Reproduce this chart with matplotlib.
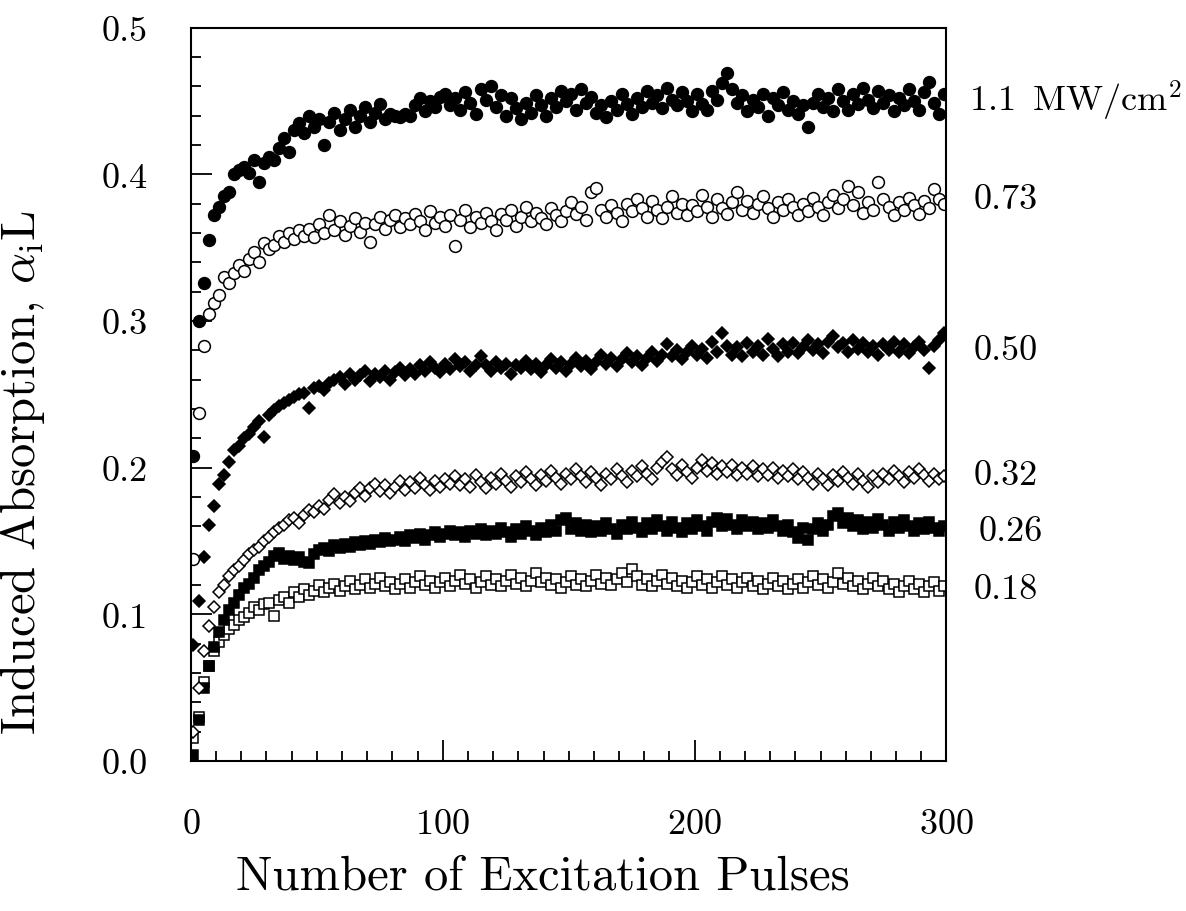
import numpy as np
import matplotlib
matplotlib.use("Agg")
import matplotlib.pyplot as plt
from matplotlib.ticker import MultipleLocator, FormatStrFormatter
import matplotlib.transforms as mtransforms

plt.rcParams['font.family'] = ['cmr10', 'DejaVu Serif']
plt.rcParams['mathtext.fontset'] = 'cm'
plt.rcParams['axes.unicode_minus'] = False
plt.rcParams['axes.formatter.use_mathtext'] = True

# induced absorption, one value every 2nd pulse (1, 3, 5, ... 299)
s110 = [0.208, 0.300, 0.326, 0.355, 0.372, 0.378, 0.385, 0.388, 0.400, 0.403,
        0.405, 0.401, 0.410, 0.395, 0.408, 0.412, 0.410, 0.418, 0.425, 0.415,
        0.430, 0.435, 0.428, 0.440, 0.432, 0.438, 0.420, 0.436, 0.442, 0.430,
        0.438, 0.444, 0.432, 0.440, 0.446, 0.436, 0.442, 0.448, 0.438, 0.441,
        0.440, 0.439, 0.441, 0.440, 0.447, 0.452, 0.443, 0.450, 0.446, 0.453,
        0.455, 0.447, 0.452, 0.444, 0.456, 0.449, 0.441, 0.458, 0.451, 0.460,
        0.446, 0.454, 0.440, 0.452, 0.445, 0.438, 0.449, 0.442, 0.454, 0.447,
        0.440, 0.452, 0.446, 0.457, 0.450, 0.455, 0.444, 0.458, 0.449, 0.453,
        0.442, 0.447, 0.439, 0.450, 0.444, 0.455, 0.448, 0.441, 0.452, 0.446,
        0.457, 0.449, 0.454, 0.445, 0.459, 0.451, 0.447, 0.456, 0.450, 0.443,
        0.455, 0.448, 0.444, 0.457, 0.451, 0.462, 0.469, 0.458, 0.449, 0.454,
        0.443, 0.451, 0.446, 0.455, 0.440, 0.452, 0.447, 0.456, 0.444, 0.450,
        0.441, 0.447, 0.432, 0.449, 0.455, 0.446, 0.452, 0.443, 0.458, 0.450,
        0.444, 0.455, 0.448, 0.459, 0.451, 0.445, 0.457, 0.449, 0.454, 0.443,
        0.452, 0.447, 0.458, 0.450, 0.444, 0.456, 0.463, 0.449, 0.441, 0.455]

s073 = [0.138, 0.237, 0.283, 0.305, 0.312, 0.318, 0.330, 0.326, 0.333, 0.338,
        0.334, 0.342, 0.347, 0.340, 0.353, 0.349, 0.352, 0.358, 0.354, 0.360,
        0.356, 0.362, 0.358, 0.363, 0.357, 0.366, 0.360, 0.372, 0.362, 0.368,
        0.359, 0.365, 0.370, 0.361, 0.367, 0.354, 0.366, 0.371, 0.363, 0.369,
        0.372, 0.364, 0.370, 0.366, 0.373, 0.368, 0.362, 0.375, 0.367, 0.371,
        0.365, 0.372, 0.351, 0.369, 0.376, 0.364, 0.371, 0.367, 0.374, 0.368,
        0.362, 0.373, 0.369, 0.376, 0.365, 0.371, 0.378, 0.368, 0.374, 0.370,
        0.366, 0.377, 0.372, 0.368, 0.375, 0.381, 0.373, 0.378, 0.369, 0.388,
        0.391, 0.376, 0.371, 0.379, 0.374, 0.368, 0.380, 0.375, 0.383, 0.377,
        0.371, 0.382, 0.376, 0.370, 0.378, 0.385, 0.374, 0.380, 0.372, 0.379,
        0.375, 0.386, 0.378, 0.371, 0.383, 0.377, 0.373, 0.381, 0.388, 0.376,
        0.382, 0.374, 0.380, 0.385, 0.377, 0.371, 0.381, 0.376, 0.383, 0.378,
        0.372, 0.380, 0.375, 0.384, 0.378, 0.372, 0.381, 0.386, 0.377, 0.383,
        0.392, 0.379, 0.388, 0.374, 0.381, 0.376, 0.395, 0.383, 0.378, 0.372,
        0.381, 0.376, 0.384, 0.379, 0.373, 0.382, 0.377, 0.390, 0.383, 0.380]

s050 = [0.079, 0.109, 0.139, 0.161, 0.174, 0.189, 0.195, 0.204, 0.212, 0.215,
        0.220, 0.223, 0.228, 0.232, 0.221, 0.236, 0.239, 0.242, 0.244, 0.246,
        0.248, 0.250, 0.251, 0.241, 0.254, 0.256, 0.253, 0.258, 0.260, 0.262,
        0.257, 0.264, 0.260, 0.263, 0.266, 0.259, 0.264, 0.262, 0.266, 0.260,
        0.265, 0.268, 0.263, 0.267, 0.264, 0.270, 0.266, 0.272, 0.268, 0.265,
        0.271, 0.267, 0.274, 0.269, 0.272, 0.266, 0.270, 0.276, 0.270, 0.266,
        0.272, 0.268, 0.271, 0.264, 0.270, 0.268, 0.273, 0.267, 0.271, 0.265,
        0.270, 0.274, 0.268, 0.272, 0.266, 0.271, 0.275, 0.269, 0.273, 0.267,
        0.272, 0.277, 0.271, 0.275, 0.269, 0.274, 0.278, 0.272, 0.276, 0.270,
        0.275, 0.279, 0.273, 0.277, 0.284, 0.276, 0.280, 0.274, 0.279, 0.283,
        0.277, 0.281, 0.275, 0.286, 0.279, 0.292, 0.283, 0.277, 0.282, 0.276,
        0.285, 0.279, 0.283, 0.277, 0.288, 0.281, 0.276, 0.284, 0.279, 0.285,
        0.278, 0.282, 0.287, 0.280, 0.284, 0.278, 0.286, 0.290, 0.282, 0.285,
        0.279, 0.287, 0.281, 0.285, 0.279, 0.283, 0.277, 0.284, 0.280, 0.286,
        0.279, 0.284, 0.278, 0.282, 0.286, 0.280, 0.268, 0.283, 0.287, 0.292]

s032 = [0.020, 0.050, 0.075, 0.092, 0.105, 0.115, 0.120, 0.126, 0.130, 0.133,
        0.137, 0.141, 0.144, 0.146, 0.150, 0.153, 0.156, 0.159, 0.161, 0.164,
        0.166, 0.162, 0.168, 0.171, 0.170, 0.174, 0.172, 0.178, 0.182, 0.176,
        0.180, 0.177, 0.183, 0.186, 0.181, 0.186, 0.189, 0.184, 0.188, 0.183,
        0.187, 0.191, 0.185, 0.190, 0.186, 0.193, 0.188, 0.185, 0.191, 0.187,
        0.192, 0.189, 0.194, 0.188, 0.192, 0.187, 0.195, 0.190, 0.186, 0.193,
        0.189, 0.196, 0.191, 0.187, 0.194, 0.190, 0.197, 0.192, 0.188, 0.195,
        0.191, 0.198, 0.193, 0.189, 0.196, 0.192, 0.199, 0.194, 0.190, 0.197,
        0.193, 0.188, 0.196, 0.192, 0.199, 0.194, 0.190, 0.198, 0.194, 0.201,
        0.196, 0.192, 0.200, 0.204, 0.207, 0.199, 0.195, 0.202, 0.197, 0.193,
        0.200, 0.205, 0.198, 0.203, 0.196, 0.201, 0.197, 0.202, 0.195, 0.200,
        0.196, 0.201, 0.194, 0.199, 0.195, 0.200, 0.193, 0.198, 0.194, 0.199,
        0.192, 0.197, 0.193, 0.189, 0.196, 0.192, 0.188, 0.195, 0.191, 0.197,
        0.193, 0.189, 0.196, 0.191, 0.187, 0.194, 0.190, 0.196, 0.192, 0.198,
        0.194, 0.190, 0.197, 0.193, 0.199, 0.195, 0.191, 0.196, 0.192, 0.194]

s026 = [0.004, 0.028, 0.050, 0.065, 0.078, 0.088, 0.096, 0.103, 0.108, 0.113,
        0.118, 0.121, 0.125, 0.130, 0.133, 0.136, 0.140, 0.142, 0.138, 0.140,
        0.137, 0.139, 0.136, 0.135, 0.141, 0.144, 0.145, 0.143, 0.147, 0.145,
        0.148, 0.146, 0.149, 0.147, 0.150, 0.148, 0.151, 0.149, 0.152, 0.150,
        0.151, 0.153, 0.150, 0.154, 0.152, 0.155, 0.151, 0.154, 0.156, 0.153,
        0.155, 0.157, 0.154, 0.156, 0.153, 0.157, 0.155, 0.158, 0.154, 0.157,
        0.155, 0.159, 0.156, 0.153, 0.158, 0.155, 0.160, 0.157, 0.154, 0.159,
        0.156, 0.161, 0.157, 0.164, 0.166, 0.158, 0.162, 0.157, 0.161, 0.156,
        0.160, 0.157, 0.162, 0.158, 0.155, 0.161, 0.158, 0.163, 0.159, 0.156,
        0.162, 0.158, 0.164, 0.160, 0.157, 0.163, 0.159, 0.156, 0.162, 0.158,
        0.164, 0.160, 0.157, 0.163, 0.166, 0.160, 0.165, 0.161, 0.158, 0.164,
        0.160, 0.163, 0.158, 0.162, 0.159, 0.164, 0.160, 0.157, 0.161, 0.156,
        0.152, 0.159, 0.151, 0.158, 0.162, 0.157, 0.161, 0.167, 0.169, 0.162,
        0.166, 0.160, 0.164, 0.158, 0.163, 0.159, 0.165, 0.161, 0.157, 0.163,
        0.159, 0.164, 0.160, 0.157, 0.162, 0.158, 0.163, 0.159, 0.157, 0.160]

s018 = [0.016, 0.030, 0.054, 0.065, 0.075, 0.081, 0.086, 0.090, 0.093, 0.096,
        0.098, 0.101, 0.105, 0.103, 0.107, 0.108, 0.099, 0.110, 0.112, 0.108,
        0.115, 0.112, 0.117, 0.113, 0.116, 0.120, 0.115, 0.118, 0.121, 0.116,
        0.119, 0.123, 0.117, 0.120, 0.124, 0.118, 0.121, 0.125, 0.119, 0.122,
        0.117, 0.121, 0.124, 0.118, 0.122, 0.126, 0.120, 0.123, 0.118, 0.122,
        0.125, 0.119, 0.123, 0.127, 0.121, 0.124, 0.118, 0.122, 0.126, 0.120,
        0.124, 0.119, 0.123, 0.127, 0.121, 0.125, 0.119, 0.123, 0.128, 0.122,
        0.125, 0.120, 0.124, 0.118, 0.122, 0.126, 0.120, 0.124, 0.119, 0.123,
        0.127, 0.121, 0.125, 0.120, 0.124, 0.128, 0.122, 0.131, 0.126, 0.120,
        0.124, 0.119, 0.123, 0.127, 0.121, 0.125, 0.119, 0.123, 0.118, 0.122,
        0.126, 0.120, 0.124, 0.118, 0.122, 0.126, 0.120, 0.124, 0.118, 0.122,
        0.125, 0.119, 0.123, 0.117, 0.121, 0.125, 0.119, 0.123, 0.117, 0.121,
        0.124, 0.118, 0.122, 0.126, 0.120, 0.124, 0.118, 0.122, 0.128, 0.121,
        0.125, 0.119, 0.123, 0.117, 0.121, 0.125, 0.119, 0.123, 0.117, 0.121,
        0.115, 0.119, 0.123, 0.117, 0.121, 0.115, 0.119, 0.122, 0.116, 0.119]

labels = ['1.1 $\\,$MW/cm$^2$', '0.73', '0.50', '0.32', '0.26', '0.18']
label_y = [0.451, 0.383, 0.280, 0.195, 0.157, 0.117]
label_dx = [1.030, 1.036, 1.036, 1.036, 1.042, 1.036]

fig = plt.figure(figsize=(11.86, 9.12), dpi=100)
ax = fig.add_axes([0.161, 0.1645, 0.637, 0.804])

def pulses(v):
    return np.arange(1, 2 * len(v), 2)

# draw order: bottom curves first
ax.plot(pulses(s018), s018, 's', ms=7.5, mfc='white', mec='black', mew=1.1)
ax.plot(pulses(s026), s026, 's', ms=7.5, mfc='black', mec='black', mew=1.1)
ax.plot(pulses(s032), s032, 'D', ms=6.5, mfc='white', mec='black', mew=1.1)
ax.plot(pulses(s050), s050, 'D', ms=6.5, mfc='black', mec='black', mew=1.1)
ax.plot(pulses(s073), s073, 'o', ms=8.5, mfc='white', mec='black', mew=1.1)
ax.plot(pulses(s110), s110, 'o', ms=8.5, mfc='black', mec='black', mew=1.1)

ax.set_xlim(0, 300)
ax.set_ylim(0, 0.5)
ax.xaxis.set_major_locator(MultipleLocator(100))
ax.xaxis.set_minor_locator(MultipleLocator(10))
ax.yaxis.set_major_locator(MultipleLocator(0.1))
ax.yaxis.set_minor_locator(MultipleLocator(0.02))
ax.yaxis.set_major_formatter(FormatStrFormatter('%.1f'))

ax.tick_params(which='both', direction='in', width=1.3, labelsize=26)
ax.tick_params(which='major', length=15)
ax.tick_params(which='minor', length=7)
ax.tick_params(axis='y', pad=31)
ax.tick_params(axis='x', pad=34)
for sp in ax.spines.values():
    sp.set_linewidth(1.5)

ax.set_xlabel('Number of Excitation Pulses', fontsize=35)
ax.set_ylabel(r'Induced Absorption, $\alpha_{\rm i}$L', fontsize=35)
ax.xaxis.set_label_coords(0.466, -0.127)
ax.yaxis.set_label_coords(-0.19, 0.395)

trans = mtransforms.blended_transform_factory(ax.transAxes, ax.transData)
for lab, y, dx in zip(labels, label_y, label_dx):
    ax.text(dx, y, lab, transform=trans, fontsize=26, va='center', ha='left')

fig.savefig('out.png', dpi=100)
